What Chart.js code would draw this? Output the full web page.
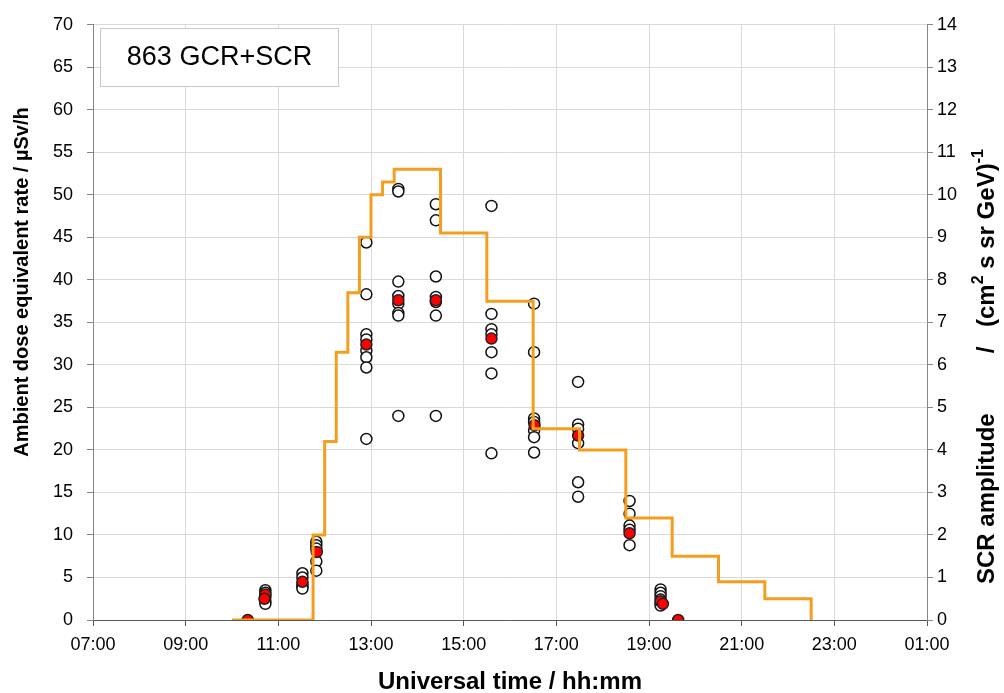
<!DOCTYPE html>
<html><head><meta charset="utf-8">
<script src="https://cdn.jsdelivr.net/npm/chart.js@4/dist/chart.umd.min.js"></script>
<style>html,body{margin:0;padding:0;background:#fff}#wrap{width:1004px;height:693px;position:relative}canvas{display:block}</style>
</head><body><div id="wrap"><canvas id="c" width="1004" height="693" style="width:1004px;height:693px"></canvas></div>
<script>
// ---- data (time in decimal hours UT, 25 = 01:00 next day) ----
const xMin = 7, xMax = 25, xStep = 2;
const leftTicksMax = 70, leftStep = 5;
const rightTicksMax = 14, rightStep = 1;

const stepTimes = [10.0, 11.75, 12.0, 12.25, 12.5, 12.75, 13.0, 13.25, 13.5, 14.5, 15.5, 16.5, 17.5, 18.5, 19.5, 20.5, 21.5, 22.5];
const stepAmplitude = [0, 2.0, 4.2, 6.3, 7.7, 9.0, 10.0, 10.3, 10.6, 9.1, 7.5, 4.5, 4.0, 2.4, 1.5, 0.9, 0.5, 0];

const obsTimes = [10.72, 11.52, 11.82, 12.9, 13.59, 14.4, 15.6, 16.52, 17.47, 18.58, 19.25];
const obsRates = [
  [3.5, 3.2, 2.7, 2.2, 1.9],
  [5.5, 5.0, 4.2, 3.9, 3.7],
  [9.2, 8.8, 8.4, 6.9, 5.8],
  [44.4, 38.3, 33.6, 33.0, 31.7, 30.9, 29.7, 21.3],
  [50.7, 50.4, 39.8, 38.1, 37.2, 36.1, 35.8, 24.0],
  [48.9, 47.0, 40.4, 38.0, 37.4, 35.8, 24.0],
  [48.7, 36.0, 34.2, 33.6, 31.5, 29.0, 19.6],
  [37.2, 31.5, 23.7, 23.3, 22.3, 21.5, 19.7],
  [28.0, 23.0, 22.5, 20.8, 16.2, 14.5],
  [14.0, 12.5, 11.1, 10.6, 8.8],
  [3.6, 3.2, 2.8, 2.4, 1.9, 1.7]
];

const meanTimes = [10.34, 10.72, 10.70, 11.52, 11.83, 12.9, 13.59, 14.4, 15.6, 16.53, 17.47, 18.58, 19.25, 19.3, 19.63];
const meanRates = [0, 3.0, 2.5, 4.5, 8.0, 32.4, 37.6, 37.6, 33.1, 22.9, 21.7, 10.2, 2.2, 1.9, 0];

const boxLabel = "863 GCR+SCR";
const xTitle = "Universal time / hh:mm";
const yTitle = "Ambient dose equivalent rate / µSv/h";
const y2TitleA = "SCR amplitude";
const y2TitleSlash = "/";
const y2TitleParts = [["(cm", false], ["2", true], [" s sr GeV)", false], ["-1", true]];

// ---- build tables ----
const stepData = stepTimes.map((t, i) => ({x: t, y: stepAmplitude[i]}));
const obsData = [];
obsTimes.forEach((t, i) => obsRates[i].forEach(v => obsData.push({x: t, y: v})));
const meanData = meanTimes.map((t, i) => ({x: t, y: meanRates[i]}));

const FONT = "'Liberation Sans', Arial, sans-serif";

const annot = {
  id: 'annot',
  afterDraw(chart) {
    const ctx = chart.ctx;
    const ca = chart.chartArea;
    ctx.save();
    ctx.fillStyle = '#ffffff';
    ctx.strokeStyle = '#c8c8c8';
    ctx.lineWidth = 1;
    ctx.fillRect(100.5, 28.5, 238, 58);
    ctx.strokeRect(100.5, 28.5, 238, 58);
    ctx.fillStyle = '#000';
    ctx.font = "27px " + FONT;
    ctx.textAlign = 'center';
    ctx.textBaseline = 'middle';
    ctx.fillText(boxLabel, 219.5, 58);

    ctx.font = "bold 24px " + FONT;
    ctx.fillText(xTitle, (ca.left + ca.right) / 2, 682);

    ctx.save();
    ctx.translate(22, 282);
    ctx.rotate(-Math.PI / 2);
    ctx.font = "bold 20px " + FONT;
    ctx.fillText(yTitle, 0, 0);
    ctx.restore();

    // right title: rotated, reads bottom to top; coordinates along rotated x = -y
    ctx.save();
    ctx.translate(987, 0);
    ctx.rotate(-Math.PI / 2);
    ctx.textAlign = 'left';
    const big = "bold 24px " + FONT, small = "bold 16px " + FONT;
    ctx.font = big;
    ctx.fillText(y2TitleA, -584, 0);
    ctx.textAlign = 'center';
    ctx.fillText(y2TitleSlash, -350, 0);
    ctx.textAlign = 'left';
    let x = -327;
    y2TitleParts.forEach(([s, sup]) => {
      ctx.font = sup ? small : big;
      ctx.fillText(s, x, sup ? -8 : 0);
      x += ctx.measureText(s).width;
    });
    ctx.restore();
    ctx.restore();
  }
};

const pad2 = n => (n < 10 ? '0' : '') + n;

new Chart(document.getElementById('c'), {
  type: 'scatter',
  data: {
    datasets: [
      {
        type: 'line', label: 'SCR', data: stepData, yAxisID: 'y2', stepped: true,
        borderColor: '#f59d1f', borderWidth: 3, pointRadius: 0, fill: false, order: 0
      },
      {
        label: 'mean', data: meanData, yAxisID: 'y',
        backgroundColor: '#ff0000', borderColor: '#222', borderWidth: 1.5, pointRadius: 5.5, order: 1
      },
      {
        label: 'obs', data: obsData, yAxisID: 'y',
        backgroundColor: '#ffffff', borderColor: '#111', borderWidth: 1.5, pointRadius: 5.5, order: 2
      }
    ]
  },
  options: {
    responsive: false,
    maintainAspectRatio: false,
    animation: false,
    devicePixelRatio: 1,
    layout: {padding: {top: 23, left: 0, right: 0, bottom: 0}},
    plugins: {legend: {display: false}, tooltip: {enabled: false}},
    scales: {
      x: {
        type: 'linear', min: xMin, max: xMax,
        afterFit(s) { s.height = 73; },
        ticks: {stepSize: xStep, padding: 8, color: '#000', font: {family: FONT, size: 18},
          autoSkip: false, maxRotation: 0, minRotation: 0,
          callback: v => pad2(v % 24) + ':00'},
        grid: {color: '#d9d9d9', lineWidth: 1, tickLength: 6, tickColor: '#595959'},
        border: {color: '#595959', width: 1}
      },
      y: {
        position: 'left', min: 0, max: leftTicksMax,
        afterFit(s) { s.width = 93; },
        ticks: {stepSize: leftStep, padding: 14, color: '#000', font: {family: FONT, size: 18}, autoSkip: false},
        grid: {color: '#d9d9d9', lineWidth: 1, tickLength: 6, tickColor: '#868686'},
        border: {color: '#868686', width: 1}
      },
      y2: {
        position: 'right', min: 0, max: rightTicksMax,
        afterFit(s) { s.width = 77; },
        ticks: {stepSize: rightStep, padding: 4, color: '#000', font: {family: FONT, size: 18}, autoSkip: false},
        grid: {drawOnChartArea: false, tickLength: 6, tickColor: '#868686'},
        border: {color: '#868686', width: 1}
      }
    }
  },
  plugins: [annot]
});
</script>
</body></html>
